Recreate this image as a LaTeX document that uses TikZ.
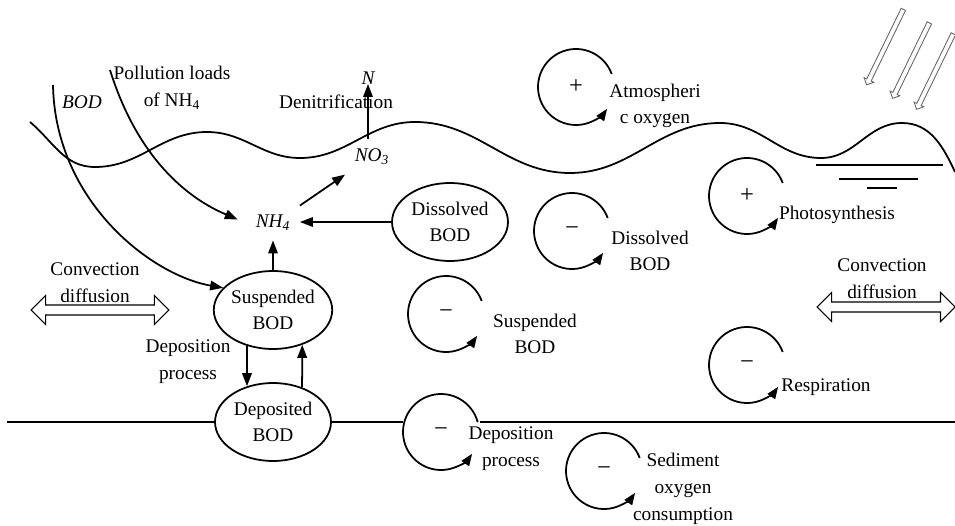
\documentclass[tikz,border=0pt]{standalone}
\usepackage{fontspec}
\setmainfont{Liberation Serif}
\usetikzlibrary{positioning, arrows.meta, shapes.geometric, shapes.arrows, calc}

\begin{document}
\begin{tikzpicture}[x=0.02cm, y=0.02cm,
	font=\fontsize{11}{15.2}\selectfont,
	line width=1pt,
	flow/.style={-{Triangle[length=2.6mm,width=1.9mm]}},
	cyclearc/.style={-{Triangle[length=2.4mm,width=1.8mm]}},
	pool/.style={ellipse, draw, minimum width=23.2mm, minimum height=15.6mm, inner sep=0pt, align=center},
	txt/.style={align=center, inner sep=1pt},
	sign/.style={font=\fontsize{14}{14}\selectfont, inner sep=1pt},
	spec/.style={font=\fontsize{11}{15.2}\selectfont\itshape, inner sep=5pt},
	hollow/.style={double arrow, draw, line width=0.6pt, minimum height=27.6mm, minimum width=5.6mm, inner sep=0.9mm, double arrow head extend=1.9mm},
	ray/.style={single arrow, draw=black!60, line width=0.5pt, minimum height=16.8mm, minimum width=2mm, inner sep=0.4mm, single arrow head extend=0.6mm, rotate=244}
	]

	% Size of the page and radius of the oxygen cycles
	\useasboundingbox (0,0) rectangle (955,-526);
	\def\cycR{7.6mm}

	% Water surface
	\draw (30,-122) to[out=-40,in=180] (95,-167) to[out=0,in=180] (207,-132)
		to[out=0,in=180] (300,-158) to[out=0,in=180] (415,-122)
		to[out=0,in=180] (570,-173) to[out=0,in=180] (720,-123)
		to[out=0,in=180] (821,-158) to[out=0,in=180] (902,-123)
		to[out=0,in=115] (955,-172);

	% Water level mark and sun rays
	\draw (816,-165) -- (943,-165);
	\draw (839,-179) -- (918,-179);
	\draw (867,-188) -- (897,-188);
	\node[ray] (ray1) at (885.5,-46) {};
	\node[ray] (ray2) at (911.5,-59.5) {};
	\node[ray] (ray3) at (935.5,-70.5) {};

	% BOD pools
	\node[pool] (susp) at (273,-310) {Suspended\\BOD};
	\node[pool] (depo) at (273,-422) {Deposited\\BOD};
	\node[pool] (diss) at (450,-222) {Dissolved\\BOD};

	% Bed of the river
	\draw (7,-422) -- (depo.west);
	\draw (depo.east) -- (403,-422);
	\draw (480,-422) -- (955,-422);

	% Nitrogen species and loads
	\node[spec] (nh4) at (273,-223) {NH\textsubscript{4}};
	\node[spec] (no3) at (372,-157) {NO\textsubscript{3}};
	\node[spec] (n) at (368,-78) {N};
	\node[txt] (denit) at (336,-102) {Denitrification};
	\node[spec] (bod) at (82,-102) {BOD};
	\node[txt] (pollu) at (172,-88) {Pollution loads\\of NH\textsubscript{4}};
	\node[txt] (settle) at (188,-362) {Deposition\\process};
	\coordinate (bodsrc) at (53,-85);
	\coordinate (pollsrc) at (110,-70);

	% Transformations
	\draw[flow] (bodsrc) .. controls (55,-200) and (150,-275) .. (susp.156);
	\draw[flow, shorten >=1.8mm] (pollsrc) .. controls (135,-150) and (180,-195) .. (nh4.west);
	\draw[flow] (susp.north) -- (nh4.south);
	\draw[flow] (diss.west) -- (diss.west -| nh4.east);
	\draw[flow] (nh4.north east) -- (no3.south west);
	\draw[flow, shorten >=-2mm] (no3.north -| n) -- (n.south);
	\draw[flow] (susp.234) -- (depo.126);
	\draw[flow] (depo.50) -- (susp.310);

	% Convection and diffusion at both ends
	\node[hollow] (convl) at (100,-310) {};
	\node[txt] (convltext) at (95,-283) {Convection\\diffusion};
	\node[hollow] (convr) at (886,-307) {};
	\node[txt] (convrtext) at (882,-279) {Convection\\diffusion};

	% Oxygen sources and sinks
	\node[sign] (atmsign) at (576,-87) {+};
	\draw[cyclearc] (atmsign.center) ++(20:\cycR) arc[start angle=20, end angle=325, radius=\cycR];
	\node[txt] (atmtext) at (655,-106) {Atmospheri\\c oxygen};

	\node[sign] (photosign) at (747,-196) {+};
	\draw[cyclearc] (photosign.center) ++(20:\cycR) arc[start angle=20, end angle=325, radius=\cycR];
	\node[txt] (phototext) at (837,-215) {Photosynthesis};

	\node[sign] (disssign) at (572,-231) {−};
	\draw[cyclearc] (disssign.center) ++(20:\cycR) arc[start angle=20, end angle=325, radius=\cycR];
	\node[txt] (disstext) at (650,-251) {Dissolved\\BOD};

	\node[sign] (suspsign) at (446,-314) {−};
	\draw[cyclearc] (suspsign.center) ++(20:\cycR) arc[start angle=20, end angle=325, radius=\cycR];
	\node[txt] (susptext) at (535,-334) {Suspended\\BOD};

	\node[sign] (respsign) at (747,-365) {−};
	\draw[cyclearc] (respsign.center) ++(20:\cycR) arc[start angle=20, end angle=325, radius=\cycR];
	\node[txt] (resptext) at (826,-387) {Respiration};

	\node[sign] (depsign) at (441,-432) {−};
	\draw[cyclearc] (depsign.center) ++(15:\cycR) arc[start angle=15, end angle=325, radius=\cycR];
	\node[txt] (deptext) at (511,-449) {Deposition\\process};

	\node[sign] (sedsign) at (604,-471) {−};
	\draw[cyclearc] (sedsign.center) ++(20:\cycR) arc[start angle=20, end angle=325, radius=\cycR];
	\node[txt] (sedtext) at (683,-489) {Sediment\\oxygen\\consumption};

\end{tikzpicture}
\end{document}
